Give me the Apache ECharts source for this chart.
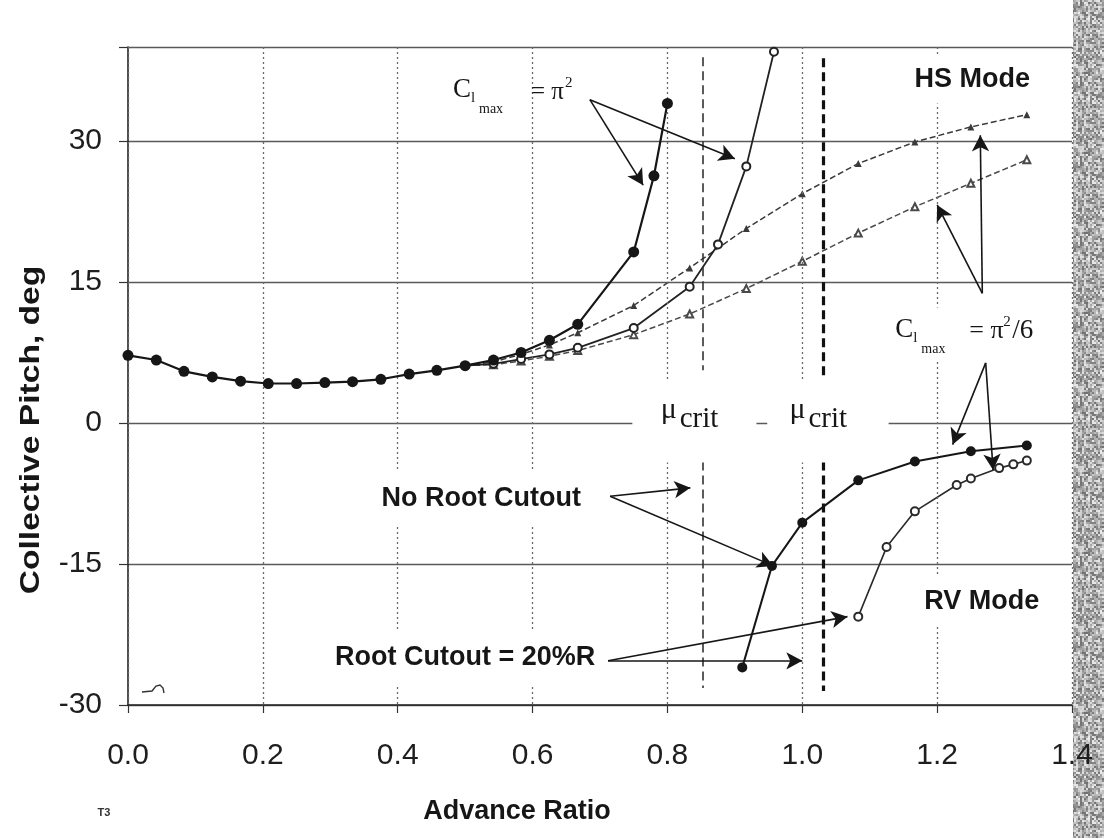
<!DOCTYPE html>
<html>
<head>
<meta charset="utf-8">
<script src="https://cdn.jsdelivr.net/npm/echarts@6/dist/echarts.min.js"></script>
<style>
  html, body { margin: 0; padding: 0; background: #ffffff; }
  #chart { width: 1104px; height: 838px; }
</style>
</head>
<body>
<div id="chart"></div>
<script>
// ---- axis ticks ----
const muTicks = [0.0, 0.2, 0.4, 0.6, 0.8, 1.0, 1.2, 1.4];
const pitchTicks = [-30, -15, 0, 15, 30];

// ---- low-speed branch shared by all helicopter-state (HS) cases ----
const baseMu    = [0, 0.042, 0.083, 0.125, 0.167, 0.208, 0.25, 0.292, 0.333, 0.375, 0.417, 0.458, 0.5];
const basePitch = [7.2, 6.7, 5.5, 4.9, 4.45, 4.2, 4.2, 4.3, 4.4, 4.65, 5.2, 5.6, 6.1];

// HS mode, Cl_max = pi^2, no root cutout
const hsPi2NoCutMu    = [0.542, 0.583, 0.625, 0.667, 0.75, 0.78, 0.80];
const hsPi2NoCutPitch = [6.7, 7.5, 8.8, 10.5, 18.2, 26.3, 34.0];

// HS mode, Cl_max = pi^2, root cutout = 20%R
const hsPi2CutMu    = [0.542, 0.583, 0.625, 0.667, 0.75, 0.833, 0.875, 0.917, 0.958];
const hsPi2CutPitch = [6.3, 6.8, 7.3, 8.0, 10.1, 14.5, 19.0, 27.3, 39.5];

// HS mode, Cl_max = pi^2/6, no root cutout
const hsPi26NoCutMu    = [0.542, 0.583, 0.625, 0.667, 0.75, 0.833, 0.917, 1.0, 1.083, 1.167, 1.25, 1.333];
const hsPi26NoCutPitch = [6.5, 7.3, 8.3, 9.6, 12.5, 16.5, 20.7, 24.4, 27.6, 29.9, 31.5, 32.8];

// HS mode, Cl_max = pi^2/6, root cutout = 20%R
const hsPi26CutMu    = [0.542, 0.583, 0.625, 0.667, 0.75, 0.833, 0.917, 1.0, 1.083, 1.167, 1.25, 1.333];
const hsPi26CutPitch = [6.2, 6.6, 7.1, 7.7, 9.4, 11.6, 14.3, 17.2, 20.2, 23.0, 25.5, 28.0];

// RV mode, no root cutout
const rvNoCutMu    = [0.911, 0.955, 1.0, 1.083, 1.167, 1.25, 1.333];
const rvNoCutPitch = [-26.0, -15.2, -10.6, -6.1, -4.1, -3.0, -2.4];

// RV mode, root cutout = 20%R
const rvCutMu    = [1.083, 1.125, 1.167, 1.229, 1.25, 1.292, 1.313, 1.333];
const rvCutPitch = [-20.6, -13.2, -9.4, -6.6, -5.9, -4.8, -4.4, -4.0];

// critical advance ratios (thin: root cutout, heavy: no root cutout)
const muCrit = [0.852, 1.031];

// ---- helpers ----
const pairs = (xs, ys) => xs.map((x, i) => [x, ys[i]]);
const branch = (xs, ys) => {
  // start from the end of the shared branch without repeating its marker
  const start = { value: [baseMu[baseMu.length - 1], basePitch[basePitch.length - 1]], symbolSize: 0 };
  return [start].concat(pairs(xs, ys));
};

const INK = '#161616';
const SERIF = '"Liberation Serif", "DejaVu Serif", serif';
const SANS = '"Liberation Sans", Arial, sans-serif';

const arrowLine = { color: INK, width: 1.6, type: 'solid' };
const arrow = (a, b) => [{ coord: a }, { coord: b }];

const option = {
  animation: false,
  backgroundColor: '#ffffff',
  grid: { left: 128, right: 32, top: 47, bottom: 133, containLabel: false },
  xAxis: {
    type: 'value', min: 0, max: 1.4, interval: 0.2, z: 5,
    axisLine: { show: true, onZero: false, lineStyle: { color: '#222', width: 1.6 } },
    axisTick: { show: true, length: 8, lineStyle: { color: '#333', width: 1.2 } },
    axisLabel: {
      margin: 36, color: '#1e1e1e', fontFamily: SANS, fontSize: 30,
      formatter: v => muTicks.some(t => Math.abs(t - v) < 1e-9) ? v.toFixed(1) : ''
    },
    splitLine: { show: true, lineStyle: { color: '#6a6a6a', width: 1.3, type: [2, 3] } }
  },
  yAxis: {
    type: 'value', min: -30, max: 40, interval: 15,
    axisLine: { show: true, onZero: false, lineStyle: { color: '#222', width: 1.6 } },
    axisTick: { show: true, length: 9, lineStyle: { color: '#333', width: 1.2 } },
    axisLabel: {
      margin: 26, color: '#1e1e1e', fontFamily: SANS, fontSize: 30,
      formatter: v => pitchTicks.includes(v) ? String(v) : ''
    },
    splitLine: { show: true, lineStyle: { color: '#5a5a5a', width: 1.4, type: 'solid' } }
  },
  series: [
    {
      name: 'HS, Cl_max = pi^2/6, root cutout', type: 'line', z: 3,
      data: branch(hsPi26CutMu, hsPi26CutPitch),
      symbol: 'emptyTriangle', symbolSize: 7,
      lineStyle: { color: '#4a4a4a', width: 1.5, type: [6, 3] },
      itemStyle: { color: '#4a4a4a', borderWidth: 1.2 }
    },
    {
      name: 'HS, Cl_max = pi^2/6, no root cutout', type: 'line', z: 3,
      data: branch(hsPi26NoCutMu, hsPi26NoCutPitch),
      symbol: 'triangle', symbolSize: 7,
      lineStyle: { color: '#3a3a3a', width: 1.5, type: [6, 3] },
      itemStyle: { color: '#3a3a3a' }
    },
    {
      name: 'HS, Cl_max = pi^2, root cutout', type: 'line', z: 4,
      data: branch(hsPi2CutMu, hsPi2CutPitch),
      symbol: 'emptyCircle', symbolSize: 8,
      lineStyle: { color: '#222', width: 1.8 },
      itemStyle: { color: '#222', borderWidth: 1.4 }
    },
    {
      name: 'HS, Cl_max = pi^2, no root cutout', type: 'line', z: 5,
      data: pairs(baseMu.concat(hsPi2NoCutMu), basePitch.concat(hsPi2NoCutPitch)),
      symbol: 'circle', symbolSize: 11,
      lineStyle: { color: INK, width: 2.2 },
      itemStyle: { color: INK }
    },
    {
      name: 'RV, root cutout', type: 'line', z: 4,
      data: pairs(rvCutMu, rvCutPitch),
      symbol: 'emptyCircle', symbolSize: 8,
      lineStyle: { color: '#2a2a2a', width: 1.6 },
      itemStyle: { color: '#2a2a2a', borderWidth: 1.3 }
    },
    {
      name: 'RV, no root cutout', type: 'line', z: 5,
      data: pairs(rvNoCutMu, rvNoCutPitch),
      symbol: 'circle', symbolSize: 10,
      lineStyle: { color: INK, width: 2 },
      itemStyle: { color: INK },
      // critical advance ratio markers
      markLine: {
        silent: true, symbol: ['none', 'none'], label: { show: false },
        data: [
          [{ coord: [muCrit[0], 38.9], lineStyle: { color: '#333', width: 1.6, type: [9, 5] } }, { coord: [muCrit[0], 5.6] }],
          [{ coord: [muCrit[0], -4.1], lineStyle: { color: '#333', width: 1.6, type: [9, 5] } }, { coord: [muCrit[0], -28.2] }],
          [{ coord: [muCrit[1], 38.8], lineStyle: { color: '#111', width: 3.2, type: [9, 5] } }, { coord: [muCrit[1], 4.6] }],
          [{ coord: [muCrit[1], -4.1], lineStyle: { color: '#111', width: 3.2, type: [9, 5] } }, { coord: [muCrit[1], -28.5] }]
        ]
      }
    },
    {
      name: 'annotation arrows', type: 'line', data: [], z: 6,
      markLine: {
        silent: true, symbol: ['none', 'arrow'], symbolSize: [13, 16],
        label: { show: false }, lineStyle: arrowLine,
        data: [
          arrow([0.685, 34.4], [0.764, 25.3]),
          arrow([0.685, 34.4], [0.90, 28.1]),
          arrow([1.267, 13.8], [1.20, 23.2]),
          arrow([1.267, 13.8], [1.264, 30.6]),
          arrow([1.272, 6.4], [1.223, -2.3]),
          arrow([1.272, 6.4], [1.283, -5.0]),
          arrow([0.715, -7.8], [0.834, -6.9]),
          arrow([0.715, -7.8], [0.957, -15.2]),
          arrow([0.712, -25.3], [1.067, -20.6]),
          arrow([0.712, -25.3], [1.0, -25.3])
        ]
      }
    }
  ]
};

const chart = echarts.init(document.getElementById('chart'));
chart.setOption(option);

const px = (x, y) => chart.convertToPixel({ gridIndex: 0 }, [x, y]);

// paper-grain texture for the scanned margin on the right
function grainCanvas() {
  const n = 40, c = document.createElement('canvas');
  c.width = n * 2; c.height = n * 2;
  const g = c.getContext('2d');
  for (let j = 0; j < n; j++) {
    for (let i = 0; i < n; i++) {
      let h = ((j * n + i + 1) * 2654435761) >>> 0;
      h ^= h >>> 13; h = Math.imul(h, 1274126177) >>> 0; h ^= h >>> 16;
      const v = 165 + (h % 70);
      g.fillStyle = 'rgb(' + v + ',' + v + ',' + v + ')';
      g.fillRect(i * 2, j * 2, 2, 2);
    }
  }
  return c;
}

// plain text box that hides the grid behind it
const label = (pos, text, font, extra) => ({
  type: 'text', x: pos[0], y: pos[1], z: 20,
  style: Object.assign({
    text, font, fill: INK, align: 'center', verticalAlign: 'middle',
    backgroundColor: '#ffffff', padding: [8, 8]
  }, extra || {})
});

// white box between two data-space corners, used to break grid lines
const mask = (p, q) => {
  const a = px(p[0], p[1]), b = px(q[0], q[1]);
  return { type: 'rect', z: 15, shape: { x: a[0], y: a[1], width: b[0] - a[0], height: b[1] - a[1] }, style: { fill: '#ffffff' } };
};

// subscripted / superscripted formula built from pieces around an anchor
const formula = (pos, pieces) => ({
  type: 'group', x: pos[0], y: pos[1], z: 20,
  children: pieces.map(p => ({
    type: 'text', x: p[0], y: p[1], z: 21,
    style: { text: p[2], font: p[3], fill: INK, align: 'left', verticalAlign: 'middle' }
  }))
});

const cmaxPieces = tail => [
  [0, 0, 'C', '27px ' + SERIF],
  [18, 8, 'l', '15px ' + SERIF],
  [26, 19, 'max', '14px ' + SERIF]
].concat(tail);

const rightEdge = px(1.4, 40);

const graphics = [
  // scanned margin
  {
    type: 'rect', z: -1,
    shape: { x: rightEdge[0] + 1, y: 0, width: 1104 - rightEdge[0], height: 838 },
    style: { fill: { image: grainCanvas(), repeat: 'repeat' }, opacity: 0.9 }
  },
  // gaps in the zero line behind the critical-advance-ratio labels
  mask([0.748, 4.5], [0.932, -4.2]),
  mask([0.948, 4.5], [1.128, -4.2]),
  formula(px(0.79, 1.2), [[0, -2, 'μ', '30px ' + SERIF], [19, 8, 'crit', '29px ' + SERIF]]),
  formula(px(0.981, 1.2), [[0, -2, 'μ', '30px ' + SERIF], [19, 8, 'crit', '29px ' + SERIF]]),
  // mode labels
  label(px(1.252, 36.5), 'HS Mode', 'bold 27px ' + SANS, { padding: [10, 8] }),
  label(px(1.266, -19.0), 'RV Mode', 'bold 27px ' + SANS, { padding: [12, 8] }),
  label(px(0.524, -8.0), 'No Root Cutout', 'bold 27px ' + SANS, { padding: [14, 8] }),
  label(px(0.5, -24.9), 'Root Cutout = 20%R', 'bold 27px ' + SANS, { padding: [14, 8] }),
  // Cl_max = pi^2
  formula(px(0.482, 35.4), cmaxPieces([
    [78, 2, '= π', '25px ' + SERIF],
    [112, -7, '2', '15px ' + SERIF]
  ])),
  // Cl_max = pi^2/6 with a white box over the grid line
  (function () {
    const a = px(1.14, 12.3), b = px(1.4, 6.6);
    return { type: 'rect', z: 15, shape: { x: a[0] - 6, y: a[1], width: b[0] - a[0] - 20, height: b[1] - a[1] }, style: { fill: '#ffffff' } };
  })(),
  formula(px(1.138, 9.9), cmaxPieces([
    [74, 1, '= π', '26px ' + SERIF],
    [108, -8, '2', '15px ' + SERIF],
    [117, 1, '/6', '27px ' + SERIF]
  ])),
  // axis titles
  {
    type: 'text', z: 20, x: 31, y: 430, rotation: Math.PI / 2, scaleX: 1.2,
    style: { text: 'Collective Pitch, deg', font: 'bold 28px ' + SANS, fill: INK, align: 'center', verticalAlign: 'middle' }
  },
  {
    type: 'text', z: 20, x: 517, y: 812,
    style: { text: 'Advance Ratio', font: 'bold 27px ' + SANS, fill: INK, align: 'center', verticalAlign: 'middle' }
  },
  {
    type: 'text', z: 20, x: 104, y: 813,
    style: { text: 'T3', font: 'bold 11px ' + SANS, fill: '#333', align: 'center', verticalAlign: 'middle' }
  },
  // small pen mark near the origin
  (function () {
    const o = px(0, -30);
    return {
      type: 'polyline', z: 20,
      shape: { points: [[o[0] + 14, o[1] - 13], [o[0] + 24, o[1] - 14], [o[0] + 28, o[1] - 19], [o[0] + 32, o[1] - 20], [o[0] + 35, o[1] - 17], [o[0] + 36, o[1] - 12]] },
      style: { stroke: '#333', lineWidth: 1.4, fill: null }
    };
  })()
];

chart.setOption({ graphic: graphics });
</script>
</body>
</html>
